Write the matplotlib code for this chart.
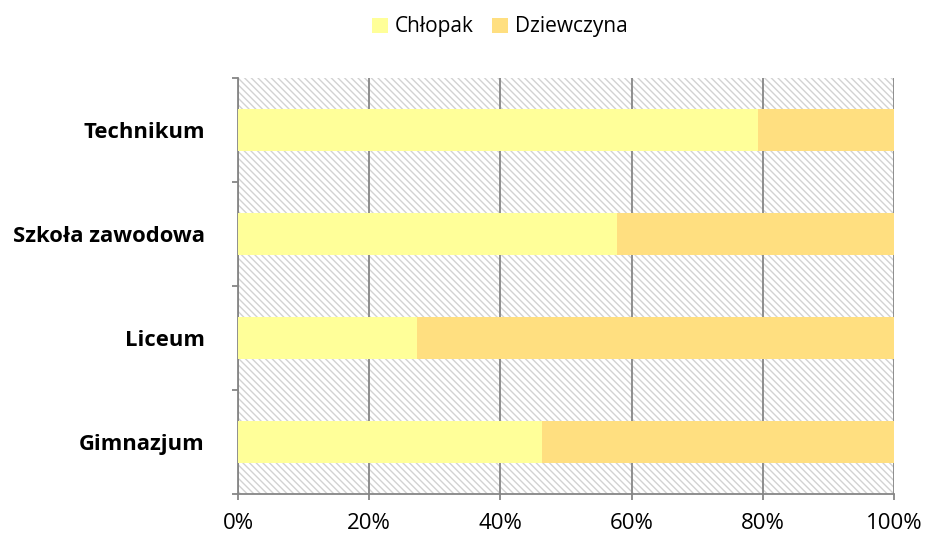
import matplotlib.pyplot as plt
from matplotlib.patches import Rectangle
from matplotlib.ticker import FixedLocator, PercentFormatter

categories = ["Gimnazjum", "Liceum", "Szkoła zawodowa", "Technikum"]
chlopak = [0.463, 0.273, 0.578, 0.793]
dziewczyna = [1 - v for v in chlopak]
series_names = ["Chłopak", "Dziewczyna"]
colors = ["#FFFF99", "#FFDF80"]

plt.rcParams['font.family'] = ['Open Sans', 'DejaVu Sans']
plt.rcParams['hatch.color'] = '#d2d2d2'
plt.rcParams['hatch.linewidth'] = 1.0

fig = plt.figure(figsize=(9.27, 5.38), dpi=100)
ax = fig.add_axes([238 / 927, 1 - 494 / 538, (894 - 238) / 927, (494 - 78) / 538])

# hatched plot area background
ax.add_patch(Rectangle((0, 0), 1, 1, transform=ax.transAxes, facecolor='white',
                       edgecolor='#d2d2d2', hatch='\\' * 5, linewidth=0, zorder=0))

y = range(len(categories))
ax.barh(y, chlopak, height=0.4, color=colors[0], label=series_names[0], zorder=3)
ax.barh(y, dziewczyna, left=chlopak, height=0.4, color=colors[1], label=series_names[1], zorder=3)

ax.set_xlim(0, 1)
ax.set_ylim(-0.5, len(categories) - 0.5)
ax.set_xticks([0, 0.2, 0.4, 0.6, 0.8, 1.0])
ax.xaxis.set_major_formatter(PercentFormatter(1.0, decimals=0))
ax.set_yticks(list(y))
ax.set_yticklabels(categories, fontweight='bold')
ax.yaxis.set_minor_locator(FixedLocator([i - 0.5 for i in range(len(categories) + 1)]))
ax.tick_params(axis='y', which='major', length=0, pad=24, labelsize=15.8)
ax.tick_params(axis='y', which='minor', length=4, width=1.3, color='#868686', direction='out')
ax.tick_params(axis='x', length=4, width=1.3, color='#868686', direction='out', labelsize=16, pad=10)

ax.grid(axis='x', color='#868686', linewidth=1.3, zorder=1)
ax.set_axisbelow(True)
for side in ['top', 'right']:
    ax.spines[side].set_visible(False)
for side in ['left', 'bottom']:
    ax.spines[side].set_color('#868686')
    ax.spines[side].set_linewidth(1.3)

fig.legend(loc='center', bbox_to_anchor=(500 / 927, 0.95), ncol=2, frameon=False,
           fontsize=15, handlelength=0.75, handleheight=0.75, handletextpad=0.35,
           columnspacing=0.9)

fig.savefig('out.png', dpi=100)
